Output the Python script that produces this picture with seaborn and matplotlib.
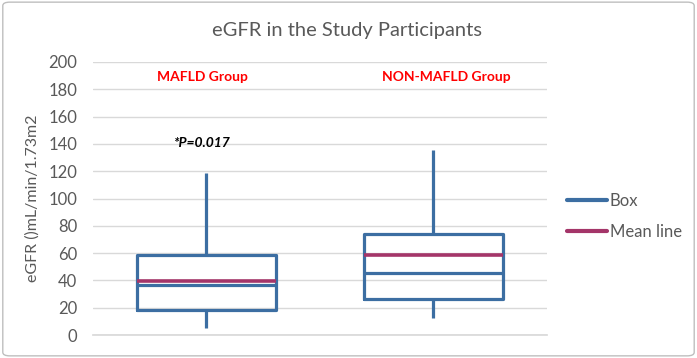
import numpy as np
import pandas as pd
import seaborn as sns
import matplotlib.pyplot as plt
from matplotlib.lines import Line2D
from matplotlib.patches import FancyBboxPatch

groups = ["MAFLD Group", "NON-MAFLD Group"]
mins = [5, 12.5]
q1s = [18.5, 26.5]
medians = [37, 45.5]
q3s = [58.8, 74.2]
maxs = [119, 135.5]
means = [39.6, 58.6]
y_ticks = [0, 20, 40, 60, 80, 100, 120, 140, 160, 180, 200]

rows = []
for g, a, b, c, d, e in zip(groups, mins, q1s, medians, q3s, maxs):
    for v in (a, b, c, d, e):
        rows.append({"group": g, "eGFR": v})
df = pd.DataFrame(rows)

sns.set_theme(style="white")
plt.rcParams['font.family'] = ['Lato', 'DejaVu Sans']

blue = '#3C6EA2'
mean_c = '#A43569'
gray_txt = '#595959'
box_w = 0.61

fig = plt.figure(figsize=(6.97, 3.58), dpi=100)
ax = fig.add_axes([0.1334, 0.064, 0.6514, 0.763])

sns.boxplot(data=df, x="group", y="eGFR", order=groups, whis=np.inf, width=box_w,
            fill=False, color=blue, linewidth=2.3,
            showcaps=False, ax=ax,
            medianprops=dict(color=blue, linewidth=2.3),
            whiskerprops=dict(color=blue, linewidth=2.3),
            boxprops=dict(color=blue, linewidth=2.3))

for i, m in enumerate(means):
    ax.hlines(m, i - box_w / 2, i + box_w / 2, color=mean_c, linewidth=2.6, zorder=5)

ax.set_ylim(0, 200)
ax.set_xlim(-0.5, 1.5)
ax.set_yticks(y_ticks)
ax.set_yticklabels([str(t) for t in y_ticks], fontsize=12, color=gray_txt)
ax.tick_params(axis='y', length=0, pad=11.5)
ax.set_xticks([])
ax.set_xlabel("")
ax.set_ylabel("eGFR ()mL/min/1.73m2", fontsize=11.5, color=gray_txt, labelpad=6)
ax.yaxis.grid(True, color='#D9D9D9', linewidth=1)
ax.set_axisbelow(True)
for s in ['top', 'right', 'left']:
    ax.spines[s].set_visible(False)
ax.spines['bottom'].set_color('#D9D9D9')

ax.text(-0.02, 189, "MAFLD Group", color='#FF0000', fontsize=10, fontweight='bold',
        ha='center', va='center')
ax.text(1.057, 189, "NON-MAFLD Group", color='#FF0000', fontsize=10, fontweight='bold',
        ha='center', va='center')
ax.text(-0.02, 141, "*P=0.017", color='black', fontsize=10, fontweight='bold',
        fontstyle='italic', ha='center', va='center')

fig.text(0.498, 0.916, "eGFR in the Study Participants", fontsize=14.5, color=gray_txt,
         ha='center', va='center')

handles = [Line2D([0], [0], color=blue, linewidth=3),
           Line2D([0], [0], color=mean_c, linewidth=3)]
fig.legend(handles, ["Box", "Mean line"], loc='center left',
           bbox_to_anchor=(0.792, 0.395), frameon=False, fontsize=12,
           handlelength=2.4, handletextpad=0.15, labelspacing=0.9,
           labelcolor=gray_txt)

fig.patches.append(FancyBboxPatch((0.004, 0.006), 0.992, 0.988,
                                  boxstyle="round,pad=0,rounding_size=0.01",
                                  transform=fig.transFigure, fill=False,
                                  edgecolor='#BFBFBF', linewidth=1))

fig.savefig("out.png", dpi=100)
